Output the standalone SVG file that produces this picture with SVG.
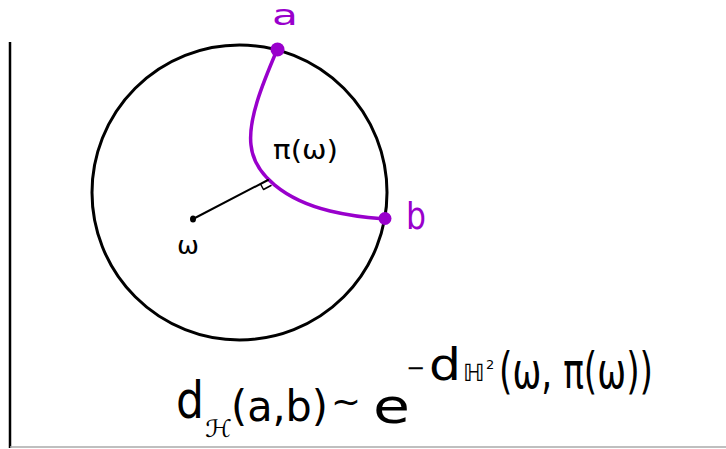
<svg xmlns="http://www.w3.org/2000/svg" width="726" height="449" viewBox="0 0 726 449">
<style>
.blk{fill:none;stroke:#000;stroke-linecap:round;stroke-linejoin:round}
.pur{fill:none;stroke:#9900cc;stroke-linecap:round}
.t{font-family:"DejaVu Sans","Liberation Sans",sans-serif;fill:#000}
.tp{font-family:"DejaVu Sans","Liberation Sans",sans-serif;fill:#9900cc}
</style>
<rect width="726" height="449" fill="#fff"/>
<g id="frame">
<line x1="10" y1="42" x2="10" y2="448" stroke="#000" stroke-width="2.5"/>
<line x1="10" y1="447" x2="726" y2="447" stroke="#aaa" stroke-width="1.5"/>
</g>
<g id="disk">
<circle class="blk" cx="239.5" cy="192.5" r="147.5" stroke-width="3"/>
</g>
<g id="connectors">
<path class="pur" stroke-width="3.5" d="M277,50 C262,85 248,120 251,145 C254,175 285,200 330,211 C355,217 372,218 385,219"/>
<line class="blk" x1="193" y1="219" x2="268" y2="180" stroke-width="2"/>
<path class="blk" stroke-width="1.5" d="M260.5,184 L263.5,189.5 L271,185.5"/>
</g>
<g id="point-a">
<circle cx="277.5" cy="49.5" r="7" fill="#9900cc"/>
<text class="tp" x="272" y="25" font-size="28" textLength="26" lengthAdjust="spacingAndGlyphs">a</text>
</g>
<g id="point-b">
<circle cx="385" cy="218.5" r="6.5" fill="#9900cc"/>
<text class="tp" x="406" y="229" font-size="38" textLength="20" lengthAdjust="spacingAndGlyphs">b</text>
</g>
<g id="point-w">
<ellipse cx="193" cy="219" rx="3" ry="3.5" fill="#000"/>
<text class="t" x="177" y="254" font-size="24" textLength="22" lengthAdjust="spacingAndGlyphs">ω</text>
</g>
<g id="label-pi">
<text class="t" x="273" y="159" font-size="27" textLength="65" lengthAdjust="spacingAndGlyphs">π(ω)</text>
</g>
<g id="formula">
<text class="t" x="176" y="418" font-size="52" textLength="28" lengthAdjust="spacingAndGlyphs">d</text>
<text class="t" x="205" y="437" font-size="24" textLength="27" lengthAdjust="spacingAndGlyphs">ℋ</text>
<text class="t" x="231" y="421" font-size="42" textLength="97" lengthAdjust="spacingAndGlyphs">(a,b)</text>
<text class="t" x="331" y="414" font-size="36" textLength="30" lengthAdjust="spacingAndGlyphs">~</text>
<text class="t" x="373" y="423" font-size="48" textLength="37" lengthAdjust="spacingAndGlyphs">e</text>
<text class="t" x="406" y="376" font-size="24" textLength="19" lengthAdjust="spacingAndGlyphs">−</text>
<text class="t" x="429" y="380" font-size="44" textLength="32" lengthAdjust="spacingAndGlyphs">d</text>
<text class="t" x="463" y="381" font-size="24" textLength="22" lengthAdjust="spacingAndGlyphs">ℍ</text>
<text class="t" x="486" y="369" font-size="13">2</text>
<text class="t" x="499" y="388" font-size="50" textLength="154" lengthAdjust="spacingAndGlyphs">(ω, π(ω))</text>
</g>
</svg>
